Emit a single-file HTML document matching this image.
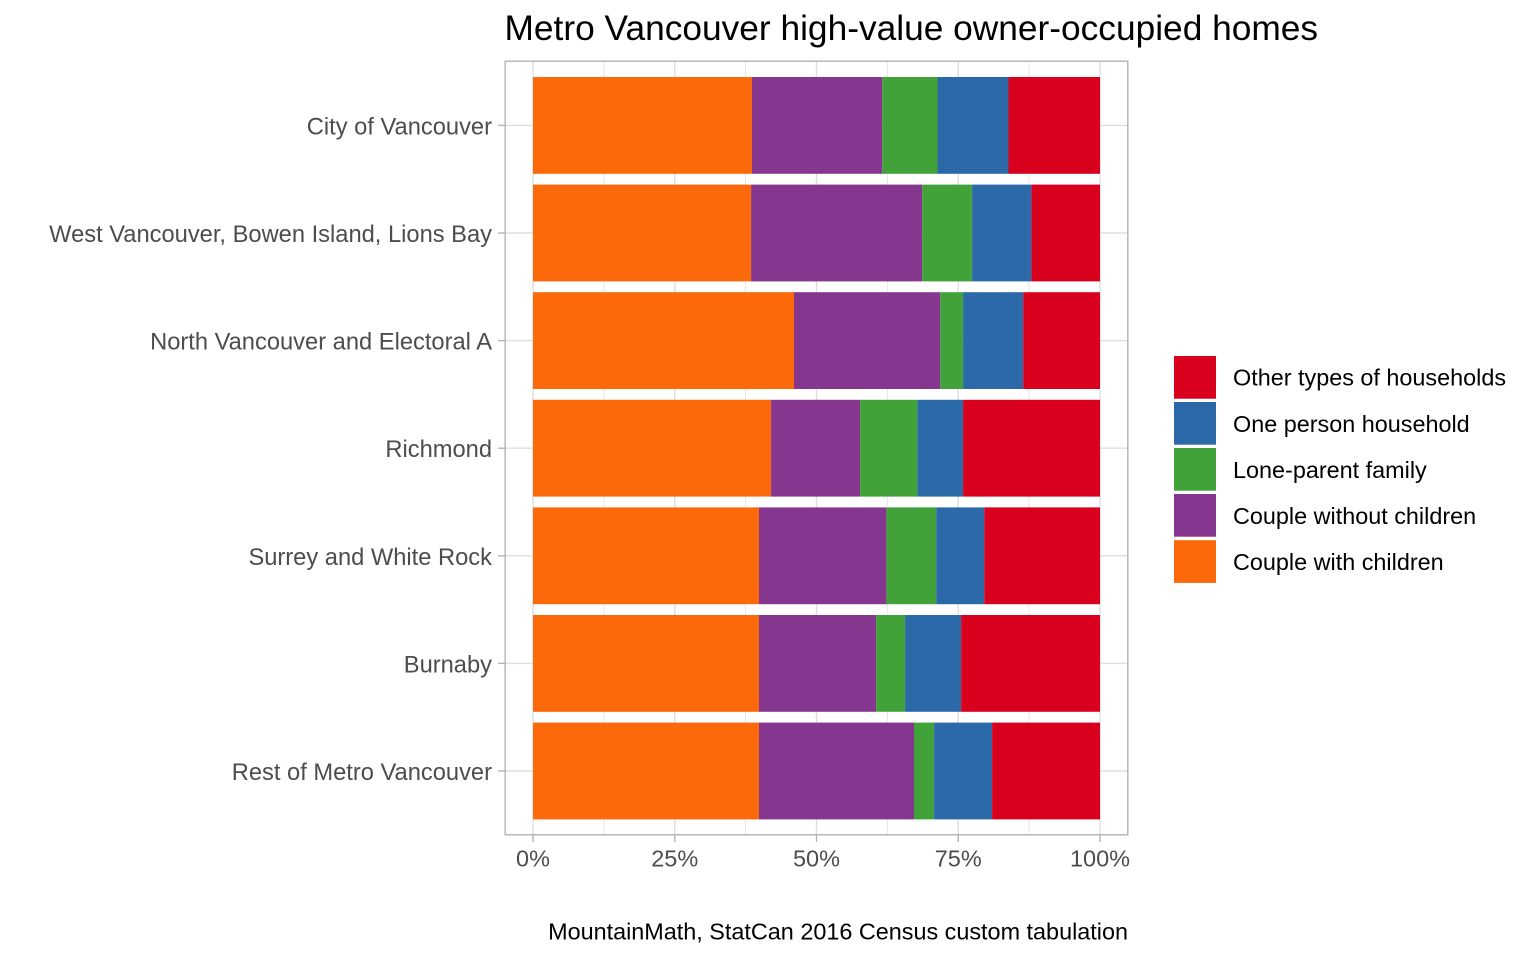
<!DOCTYPE html>
<html>
<head>
<meta charset="utf-8">
<style>
html,body{margin:0;padding:0;background:#fff;}
svg{display:block;}
text{font-family:"Liberation Sans",Arial,sans-serif;}
</style>
</head>
<body>
<svg width="1536" height="960" viewBox="0 0 1536 960" xmlns="http://www.w3.org/2000/svg">
<rect x="0" y="0" width="1536" height="960" fill="#fff"/>
<!-- title -->
<text x="504.5" y="40" font-size="35.3" fill="#000">Metro Vancouver high-value owner-occupied homes</text>

<!-- gridlines minor vertical -->
<g stroke="#dedede" stroke-width="0.7">
<line x1="603.9" y1="61" x2="603.9" y2="835"/>
<line x1="745.6" y1="61" x2="745.6" y2="835"/>
<line x1="887.4" y1="61" x2="887.4" y2="835"/>
<line x1="1029.1" y1="61" x2="1029.1" y2="835"/>
</g>
<!-- gridlines major -->
<g stroke="#dedede" stroke-width="1.4">
<line x1="533" y1="61" x2="533" y2="835"/>
<line x1="674.75" y1="61" x2="674.75" y2="835"/>
<line x1="816.5" y1="61" x2="816.5" y2="835"/>
<line x1="958.25" y1="61" x2="958.25" y2="835"/>
<line x1="1100" y1="61" x2="1100" y2="835"/>
<line x1="505" y1="125.4" x2="1128" y2="125.4"/>
<line x1="505" y1="233" x2="1128" y2="233"/>
<line x1="505" y1="340.6" x2="1128" y2="340.6"/>
<line x1="505" y1="448.2" x2="1128" y2="448.2"/>
<line x1="505" y1="555.8" x2="1128" y2="555.8"/>
<line x1="505" y1="663.4" x2="1128" y2="663.4"/>
<line x1="505" y1="771" x2="1128" y2="771"/>
</g>

<!-- City of Vancouver -->
<g>
<rect x="533" y="77" width="219" height="96.8" fill="#FC690A"/>
<rect x="752" y="77" width="130.3" height="96.8" fill="#85368F"/>
<rect x="882.3" y="77" width="55.2" height="96.8" fill="#41A23A"/>
<rect x="937.5" y="77" width="71" height="96.8" fill="#2C69A8"/>
<rect x="1008.5" y="77" width="91.5" height="96.8" fill="#D8001C"/>
</g>
<!-- West Vancouver -->
<g>
<rect x="533" y="184.6" width="218.1" height="96.8" fill="#FC690A"/>
<rect x="751.1" y="184.6" width="171.2" height="96.8" fill="#85368F"/>
<rect x="922.3" y="184.6" width="49.8" height="96.8" fill="#41A23A"/>
<rect x="972.1" y="184.6" width="59.3" height="96.8" fill="#2C69A8"/>
<rect x="1031.4" y="184.6" width="68.6" height="96.8" fill="#D8001C"/>
</g>
<!-- North Vancouver -->
<g>
<rect x="533" y="292.2" width="261" height="96.8" fill="#FC690A"/>
<rect x="794" y="292.2" width="146.3" height="96.8" fill="#85368F"/>
<rect x="940.3" y="292.2" width="22.8" height="96.8" fill="#41A23A"/>
<rect x="963.1" y="292.2" width="60.1" height="96.8" fill="#2C69A8"/>
<rect x="1023.2" y="292.2" width="76.8" height="96.8" fill="#D8001C"/>
</g>
<!-- Richmond -->
<g>
<rect x="533" y="399.8" width="238.1" height="96.8" fill="#FC690A"/>
<rect x="771.1" y="399.8" width="89" height="96.8" fill="#85368F"/>
<rect x="860.1" y="399.8" width="57.3" height="96.8" fill="#41A23A"/>
<rect x="917.4" y="399.8" width="45.7" height="96.8" fill="#2C69A8"/>
<rect x="963.1" y="399.8" width="136.9" height="96.8" fill="#D8001C"/>
</g>
<!-- Surrey -->
<g>
<rect x="533" y="507.4" width="226" height="96.8" fill="#FC690A"/>
<rect x="759" y="507.4" width="127.4" height="96.8" fill="#85368F"/>
<rect x="886.4" y="507.4" width="49.8" height="96.8" fill="#41A23A"/>
<rect x="936.2" y="507.4" width="48.1" height="96.8" fill="#2C69A8"/>
<rect x="984.3" y="507.4" width="115.7" height="96.8" fill="#D8001C"/>
</g>
<!-- Burnaby -->
<g>
<rect x="533" y="615" width="226" height="96.8" fill="#FC690A"/>
<rect x="759" y="615" width="117.1" height="96.8" fill="#85368F"/>
<rect x="876.1" y="615" width="29" height="96.8" fill="#41A23A"/>
<rect x="905.1" y="615" width="56" height="96.8" fill="#2C69A8"/>
<rect x="961.1" y="615" width="138.9" height="96.8" fill="#D8001C"/>
</g>
<!-- Rest -->
<g>
<rect x="533" y="722.6" width="226" height="96.8" fill="#FC690A"/>
<rect x="759" y="722.6" width="155" height="96.8" fill="#85368F"/>
<rect x="914" y="722.6" width="20.1" height="96.8" fill="#41A23A"/>
<rect x="934.1" y="722.6" width="58" height="96.8" fill="#2C69A8"/>
<rect x="992.1" y="722.6" width="107.9" height="96.8" fill="#D8001C"/>
</g>

<!-- panel border -->
<rect x="505.2" y="61.2" width="622.6" height="773.6" fill="none" stroke="#b3b3b3" stroke-width="1.4"/>

<!-- ticks -->
<g stroke="#b3b3b3" stroke-width="1.4">
<line x1="498" y1="125.4" x2="505" y2="125.4"/>
<line x1="498" y1="233" x2="505" y2="233"/>
<line x1="498" y1="340.6" x2="505" y2="340.6"/>
<line x1="498" y1="448.2" x2="505" y2="448.2"/>
<line x1="498" y1="555.8" x2="505" y2="555.8"/>
<line x1="498" y1="663.4" x2="505" y2="663.4"/>
<line x1="498" y1="771" x2="505" y2="771"/>
<line x1="533" y1="835" x2="533" y2="842"/>
<line x1="674.75" y1="835" x2="674.75" y2="842"/>
<line x1="816.5" y1="835" x2="816.5" y2="842"/>
<line x1="958.25" y1="835" x2="958.25" y2="842"/>
<line x1="1100" y1="835" x2="1100" y2="842"/>
</g>

<!-- y labels -->
<g font-size="23.7" fill="#4d4d4d" text-anchor="end">
<text x="492" y="134.5">City of Vancouver</text>
<text x="492" y="242">West Vancouver, Bowen Island, Lions Bay</text>
<text x="492" y="349.6">North Vancouver and Electoral A</text>
<text x="492" y="457.2">Richmond</text>
<text x="492" y="564.8">Surrey and White Rock</text>
<text x="492" y="672.4">Burnaby</text>
<text x="492" y="780">Rest of Metro Vancouver</text>
</g>

<!-- x labels -->
<g font-size="23.5" fill="#4d4d4d" text-anchor="middle">
<text x="533" y="866.5">0%</text>
<text x="674.75" y="866.5">25%</text>
<text x="816.5" y="866.5">50%</text>
<text x="958.25" y="866.5">75%</text>
<text x="1100" y="866.5">100%</text>
</g>

<!-- legend -->
<g>
<rect x="1174" y="356" width="42" height="42.7" fill="#D8001C"/>
<rect x="1174" y="402" width="42" height="42.7" fill="#2C69A8"/>
<rect x="1174" y="448" width="42" height="42.7" fill="#41A23A"/>
<rect x="1174" y="494" width="42" height="42.7" fill="#85368F"/>
<rect x="1174" y="540.2" width="42" height="42.7" fill="#FC690A"/>
</g>
<g font-size="23.4" fill="#000">
<text x="1233" y="385.7">Other types of households</text>
<text x="1233" y="431.8">One person household</text>
<text x="1233" y="477.9">Lone-parent family</text>
<text x="1233" y="524">Couple without children</text>
<text x="1233" y="570.1">Couple with children</text>
</g>

<!-- caption -->
<text x="1128" y="939.5" font-size="23.4" fill="#000" text-anchor="end">MountainMath, StatCan 2016 Census custom tabulation</text>
</svg>
</body>
</html>
